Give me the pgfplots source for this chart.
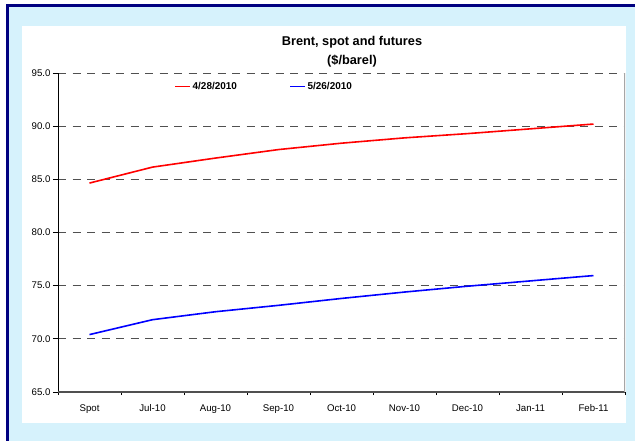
\documentclass[border=0pt]{standalone}
\usepackage{pgfplots}
\pgfplotsset{compat=1.18}
\usepackage{fontspec}
\setmainfont{Liberation Sans}
\definecolor{bgblue}{RGB}{214,242,252}
\definecolor{navy}{RGB}{0,0,128}
\definecolor{gridgray}{RGB}{80,80,80}
\begin{document}
\begin{tikzpicture}
% background frame
\fill[white] (0bp,0bp) rectangle (635bp,-441bp);
\fill[bgblue] (9bp,-7bp) rectangle (635bp,-441bp);
\fill[navy] (6bp,-4bp) rectangle (635bp,-7bp);
\fill[navy] (6bp,-4bp) rectangle (9bp,-441bp);
\fill[white] (22bp,-26bp) rectangle (626bp,-423bp);
\node[font=\bfseries\fontsize{12.8}{19}\selectfont, align=center] at (352bp,-51.5bp) {Brent, spot and futures\\(\$/barel)};
\begin{axis}[
  at={(58bp,-392bp)}, anchor=south west,
  scale only axis, width=567bp, height=319bp,
  xmin=-0.5, xmax=8.5, ymin=65, ymax=95,
  axis line style={draw=none},
  tick pos=left, tick align=outside,
  xtick={0,...,8},
  xticklabels={Spot,Jul-10,Aug-10,Sep-10,Oct-10,Nov-10,Dec-10,Jan-11,Feb-11},
  major x tick style={draw=none},
  minor xtick={-0.5,0.5,...,8.5},
  minor x tick style={black, line width=0.8bp},
  minor tick length=3bp,
  ytick={65,70,...,95},
  major tick length=5bp,
  y tick style={black, line width=0.8bp},
  yticklabel style={xshift=1bp, /pgf/number format/.cd, fixed, fixed zerofill, precision=1},
  /pgf/number format/assume math mode=true,
  ticklabel style={font=\fontsize{9.7}{11}\selectfont},
  xticklabel style={yshift=-4bp},
  ymajorgrids,
  major grid style={gridgray, line width=0.7bp, dash pattern=on 8bp off 6.5bp},
  legend style={at={(rel axis cs:0.2,0.985)}, anchor=north west, draw=none, fill=none,
    font=\bfseries\fontsize{10}{11}\selectfont, legend columns=2,
    nodes={inner xsep=1.5bp},
    /tikz/every even column/.append style={column sep=51bp}},
  legend image code/.code={\draw[#1] (0bp,0bp) -- (15bp,0bp);},
]
\addplot[red, line width=1.6bp] coordinates {(0,84.65) (1,86.15) (2,87.0) (3,87.8) (4,88.4) (5,88.9) (6,89.3) (7,89.75) (8,90.2)};
\addlegendentry{4/28/2010}
\addplot[blue, line width=1.6bp] coordinates {(0,70.4) (1,71.8) (2,72.55) (3,73.15) (4,73.8) (5,74.4) (6,74.95) (7,75.45) (8,75.95)};
\addlegendentry{5/26/2010}
\draw[black, line width=0.9bp] (rel axis cs:0,0) -- (rel axis cs:0,1);
\draw[gridgray, line width=1.4bp] (rel axis cs:0,0) -- (rel axis cs:1,0);
\draw[gray!70, line width=1.4bp] (rel axis cs:1,0) -- (rel axis cs:1,1);
\end{axis}
\end{tikzpicture}
\end{document}
